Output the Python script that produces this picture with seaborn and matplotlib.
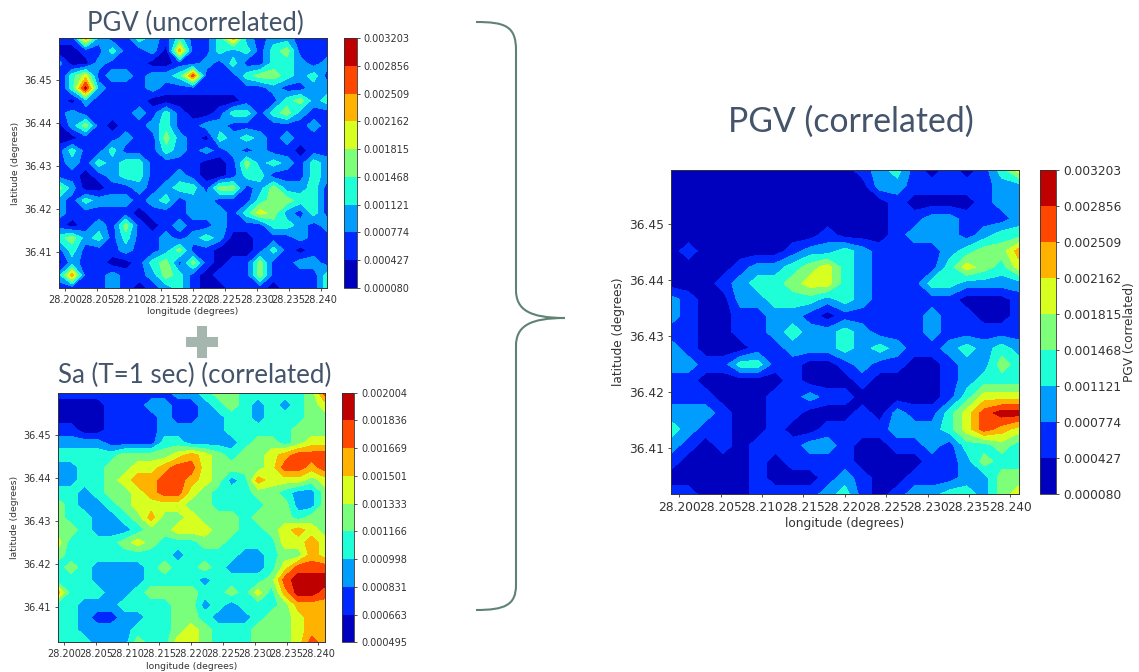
import numpy as np
import seaborn as sns
import matplotlib
matplotlib.use("Agg")
import matplotlib.pyplot as plt
from matplotlib.path import Path
from matplotlib.patches import PathPatch, Rectangle

LEVELS_PGV = [0.000080, 0.000427, 0.000774, 0.001121, 0.001468, 0.001815, 0.002162, 0.002509, 0.002856, 0.003203]
LEVELS_SA = [0.000495, 0.000663, 0.000831, 0.000998, 0.001166, 0.001333, 0.001501, 0.001669, 0.001836, 0.002004]
LON_TICKS = [28.200, 28.205, 28.210, 28.215, 28.220, 28.225, 28.230, 28.235, 28.240]
LAT_TICKS = [36.41, 36.42, 36.43, 36.44, 36.45]
LON_RANGE = (28.19901, 28.24104)
LAT_RANGE = (36.4018, 36.4597)

# Colour band read at each grid node, north row first
PGV_UNCORRELATED = [
    "116211321311362122111",
    "001131120611323134111",
    "200211100112131133212",
    "035122122371113443231",
    "038211121111111121122",
    "102111100000001113423",
    "121111213100133134211",
    "024101123112211111121",
    "001112114210323212111",
    "131131113212121211011",
    "121323311110014232132",
    "110123311210013311132",
    "420011212331441242231",
    "213222123122111344331",
    "211111011122213542131",
    "101214101211211133212",
    "342313112123200111211",
    "131112112411000131011",
    "021100134141011411221",
    "261121124310111411113",
    "111121012310011101113",
]
SA_CORRELATED = [
    "111111111223443333347",
    "000011122112343232345",
    "000011112112233233344",
    "110011112222233333444",
    "222211113322223443455",
    "333334444565434456777",
    "223344556775444457767",
    "223345667765423655545",
    "332344567754333443224",
    "432234555544333344224",
    "433223464454443444344",
    "443222344555443345654",
    "533334543334433335565",
    "433333333233332234465",
    "343222234334322235777",
    "333222233332333347888",
    "633322344443343536887",
    "332223333442323334666",
    "332112233443222344566",
    "332222333454333444566",
    "333222433554333444576",
]
PGV_CORRELATED = [
    "000000000001231010135",
    "000000000000221111122",
    "000000000000010000122",
    "000000000000011221112",
    "000000000100012221233",
    "010000012232111123446",
    "000012234532111135435",
    "000123345532111332222",
    "210022333232111110001",
    "210011221011111211001",
    "110011232232111211111",
    "210001122232321123232",
    "221133110012110012243",
    "110000010001000012333",
    "111000112110000013555",
    "222100110001021135788",
    "321100100111122235765",
    "210101112210011213343",
    "100001011110000112433",
    "000001000121001112244",
    "110001111231012233245",
]

W, H = 1139, 672
sns.set_theme(style="ticks", rc={"axes.linewidth": 0.7, "axes.edgecolor": "#333333"})
plt.rcParams["font.family"] = ["DejaVu Sans"]
jet = matplotlib.colormaps["jet"]
fig = plt.figure(figsize=(W / 100, H / 100), dpi=100, facecolor="white")


def box(x0, y0, x1, y1):
    return [x0 / W, 1 - y1 / H, (x1 - x0) / W, (y1 - y0) / H]


def to_values(rows, levels):
    bands = np.array([[int(c) for c in r] for r in rows])
    edges = np.array(levels)
    return edges[bands] + (edges[bands + 1] - edges[bands]) / 2


def panel(rows, levels, ax_box, cb_box, fs, fl, label=None):
    ax = fig.add_axes(box(*ax_box))
    cax = fig.add_axes(box(*cb_box))
    z = to_values(rows, levels)[::-1]
    lon = np.linspace(*LON_RANGE, z.shape[1])
    lat = np.linspace(*LAT_RANGE, z.shape[0])
    cs = ax.contourf(lon, lat, z, levels=levels, cmap=jet)
    ax.set_xticks(LON_TICKS, [f"{v:.3f}" for v in LON_TICKS])
    ax.set_yticks(LAT_TICKS, [f"{v:.2f}" for v in LAT_TICKS])
    ax.set_xlim(*LON_RANGE)
    ax.set_ylim(*LAT_RANGE)
    ax.tick_params(labelsize=fs, length=2.5, width=0.6, pad=2.5, colors="#333333")
    ax.set_xlabel("longitude (degrees)", fontsize=fl, color="#333333", labelpad=2)
    ax.set_ylabel("latitude (degrees)", fontsize=fl, color="#333333", labelpad=3)
    cb = fig.colorbar(cs, cax=cax, ticks=levels, format="%.6f")
    cb.ax.tick_params(labelsize=fs, length=2.5, width=0.6, pad=2.5, colors="#333333")
    cb.outline.set_linewidth(0.6)
    if label:
        cb.set_label(label, fontsize=fl, color="#333333", labelpad=1)


panel(PGV_UNCORRELATED, LEVELS_PGV, (58.7, 38.3, 327.3, 287.7), (344, 38.3, 356.7, 287.7), 7.0, 6.7)
panel(SA_CORRELATED, LEVELS_SA, (57.7, 392.7, 325, 642.3), (342, 392.7, 354.3, 642.3), 7.0, 6.7)
panel(PGV_CORRELATED, LEVELS_PGV, (671, 170, 1019, 494), (1040, 170, 1056, 494), 8.8, 8.7, "PGV (correlated)")

TITLE = "#44546A"
for text, x, y, size in [("PGV (uncorrelated)", 195, 23, 18.5),
                         ("Sa (T=1 sec) (correlated)", 195, 375, 18.6),
                         ("PGV (correlated)", 851, 122, 24.3)]:
    fig.text(x / W, 1 - y / H, text, ha="center", va="center", fontsize=size,
             family="Lato", color=TITLE)


def fp(x, y):
    return (x / W, 1 - y / H)


MOVE, LINE, CURVE = Path.MOVETO, Path.LINETO, Path.CURVE4
brace = [((476, 22), MOVE), ((505, 22), CURVE), ((516, 26), CURVE), ((516, 50), CURVE),
         ((516, 290), LINE), ((516, 310), CURVE), ((530, 318), CURVE), ((565, 318), CURVE),
         ((530, 318), CURVE), ((516, 326), CURVE), ((516, 346), CURVE),
         ((516, 585), LINE), ((516, 605), CURVE), ((505, 610), CURVE), ((476, 610), CURVE)]
fig.add_artist(PathPatch(Path([fp(*p) for p, _ in brace], [c for _, c in brace]),
                         fill=False, edgecolor="#5F8273", lw=1.5, transform=fig.transFigure))
CROSS = "#A4B6AE"
for x0, y0, x1, y1 in [(197, 326, 207, 358), (186, 337, 218, 347)]:
    fig.add_artist(Rectangle(fp(x0, y1), (x1 - x0) / W, (y1 - y0) / H, facecolor=CROSS,
                             edgecolor="none", transform=fig.transFigure))

fig.savefig("out.png", dpi=100)
